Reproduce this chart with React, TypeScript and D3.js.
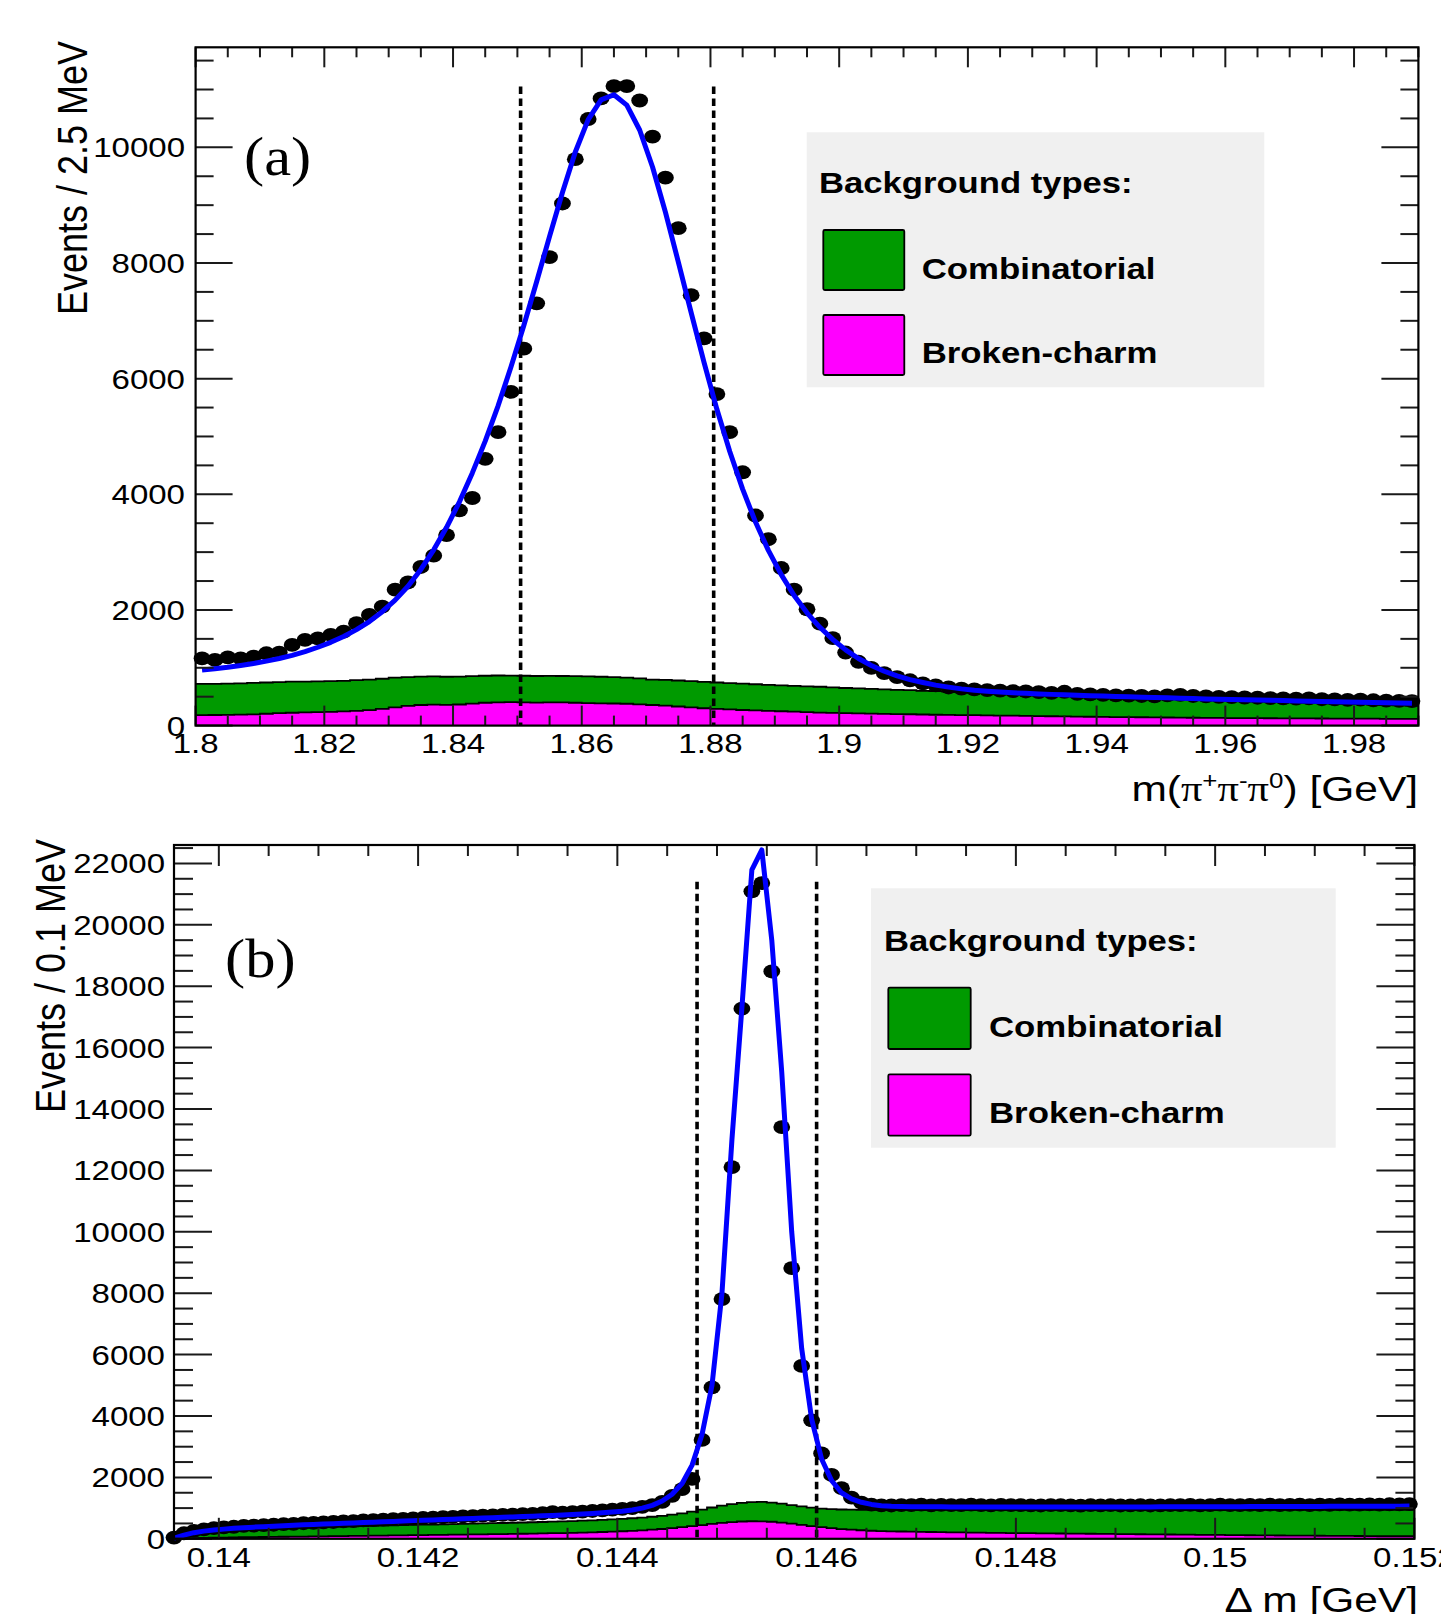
import React from 'react';
import * as d3 from 'd3';

const W = 1441;
const H = 1614;
const SX = 1.18;
const SANS = '"Liberation Sans", Arial, Helvetica, sans-serif';
const SERIF = '"Liberation Serif", "Times New Roman", serif';
const GREEN = '#009a00';
const MAGENTA = '#ff00ff';
const BLUE = '#0000ff';

// ---------------- Panel (a): m(pi+ pi- pi0) ----------------
const aBinStart = 1.8;
const aBinWidth = 0.002;
const aData = [
  1164, 1135, 1181, 1164, 1193, 1251, 1262, 1395, 1481, 1510,
  1568, 1625, 1770, 1914, 2057, 2351, 2475, 2743, 2938, 3295,
  3722, 3936, 4613, 5076, 5770, 6518, 7302, 8103, 9029, 9795,
  10490, 10846, 11060, 11060, 10810, 10187, 9475, 8602, 7444, 6696,
  5734, 5076, 4381, 3633, 3223, 2725, 2351, 2012, 1763, 1514,
  1264, 1104, 997, 908, 837, 784, 730, 695, 659, 641,
  625, 612, 604, 596, 590, 578, 566, 585, 548, 540,
  532, 524, 518, 512, 506, 522, 530, 512, 506, 498,
  492, 486, 482, 476, 470, 466, 470, 456, 452, 446,
  450, 438, 432, 428, 424,
];
const aFit = [
  962, 985, 1010, 1040, 1075, 1115, 1160, 1215, 1280, 1355,
  1440, 1540, 1660, 1800, 1970, 2170, 2410, 2700, 3040, 3430,
  3870, 4370, 4920, 5530, 6200, 6920, 7680, 8460, 9220, 9920,
  10480, 10820, 10910, 10730, 10300, 9660, 8880, 8020, 7140, 6280,
  5470, 4740, 4090, 3520, 3030, 2610, 2250, 1950, 1700, 1490,
  1310, 1160, 1040, 940, 860, 795, 745, 700, 665, 635,
  612, 595, 580, 568, 558, 548, 540, 532, 525, 518,
  512, 505, 498, 492, 486, 480, 474, 468, 462, 457,
  452, 447, 442, 437, 432, 427, 422, 417, 412, 407,
  402, 398, 394, 390, 386,
];
// stacked total (combinatorial + broken-charm)
const aBkgTotal = [
  720, 722, 725, 730, 738, 745, 752, 760, 762, 765,
  770, 775, 785, 795, 810, 828, 840, 848, 850, 845,
  848, 855, 862, 866, 865, 862, 858, 860, 858, 855,
  852, 845, 838, 830, 815, 795, 790, 780, 768, 755,
  745, 735, 725, 715, 705, 695, 688, 680, 672, 660,
  650, 644, 634, 628, 618, 612, 602, 596, 586, 580,
  565, 560, 550, 545, 536, 530, 520, 514, 505, 500,
  490, 486, 478, 474, 466, 462, 454, 450, 442, 438,
  430, 426, 418, 414, 406, 402, 394, 390, 382, 378,
  370, 364, 355, 350, 342,
];
const aBrokenCharm = [
  180, 183, 186, 190, 195, 205, 215, 222, 228, 232,
  238, 245, 255, 268, 290, 315, 340, 356, 362, 358,
  365, 380, 395, 403, 405, 400, 398, 402, 400, 395,
  390, 385, 382, 378, 368, 356, 345, 330, 315, 300,
  290, 280, 270, 262, 255, 248, 240, 232, 226, 220,
  215, 212, 208, 204, 200, 196, 192, 188, 185, 182,
  180, 177, 174, 171, 168, 165, 162, 159, 156, 153,
  150, 148, 146, 144, 142, 140, 138, 136, 134, 132,
  130, 129, 128, 127, 126, 125, 124, 123, 122, 121,
  120, 119, 118, 117, 116,
];
const aXTicks = [1.8, 1.82, 1.84, 1.86, 1.88, 1.9, 1.92, 1.94, 1.96, 1.98];
const aXTickLabels = ['1.8', '1.82', '1.84', '1.86', '1.88', '1.9', '1.92', '1.94', '1.96', '1.98'];
const aYTicks = [0, 2000, 4000, 6000, 8000, 10000];
const aYTickLabels = ['0', '2000', '4000', '6000', '8000', '10000'];
const aWindow = [1.8505, 1.8805];
const aWindowTop = 11050;

// ---------------- Panel (b): Delta m ----------------
const bBinStart = 0.1395;
const bBinWidth = 0.0001;
const bData = [
  40, 180, 260, 310, 345, 372, 392, 418, 428, 447,
  458, 476, 488, 507, 518, 537, 548, 566, 578, 597,
  608, 626, 638, 652, 663, 677, 688, 702, 713, 727,
  738, 752, 763, 777, 788, 802, 813, 832, 870, 848,
  872, 884, 906, 924, 952, 974, 1002, 1040, 1100, 1200,
  1400, 1620, 1950, 3220, 4930, 7810, 12110, 17270, 21090, 21360,
  18480, 13410, 8820, 5630, 3860, 2780, 2080, 1650, 1340, 1180,
  1110, 1090, 1085, 1100, 1095, 1110, 1090, 1105, 1100, 1095,
  1110, 1100, 1090, 1105, 1095, 1100, 1090, 1085, 1100, 1095,
  1090, 1080, 1095, 1090, 1100, 1085, 1090, 1095, 1085, 1090,
  1100, 1095, 1105, 1090, 1100, 1110, 1095, 1100, 1105, 1095,
  1110, 1100, 1105, 1115, 1100, 1110, 1105, 1120, 1110, 1115,
  1120, 1110, 1125, 1120, 1130,
];
const bFit = [
  20, 120, 200, 250, 285, 315, 340, 360, 380, 395,
  410, 425, 440, 455, 468, 480, 492, 505, 517, 530,
  542, 555, 567, 580, 592, 604, 616, 628, 640, 652,
  664, 676, 688, 700, 712, 724, 737, 750, 763, 777,
  792, 808, 826, 846, 870, 900, 940, 1000, 1090, 1230,
  1450, 1800, 2400, 3400, 5000, 8000, 13000, 17300, 21790, 22440,
  19500, 15200, 10000, 6200, 3900, 2600, 1900, 1500, 1300, 1190,
  1120, 1080, 1060, 1050, 1045, 1042, 1040, 1040, 1038, 1038,
  1037, 1036, 1036, 1035, 1035, 1035, 1035, 1034, 1034, 1034,
  1034, 1035, 1035, 1035, 1036, 1036, 1037, 1038, 1039, 1040,
  1041, 1042, 1043, 1044, 1045, 1046, 1047, 1048, 1049, 1050,
  1051, 1052, 1053, 1054, 1055, 1056, 1057, 1058, 1059, 1060,
  1061, 1062, 1063, 1064, 1065,
];
const bBkgTotal = [
  10, 90, 150, 190, 220, 245, 265, 282, 298, 312,
  325, 337, 348, 358, 368, 378, 387, 396, 405, 413,
  421, 429, 437, 444, 452, 459, 466, 473, 480, 487,
  494, 501, 508, 515, 523, 531, 539, 548, 557, 567,
  578, 590, 603, 617, 633, 650, 670, 692, 718, 748,
  785, 830, 885, 950, 1020, 1080, 1130, 1170, 1195, 1200,
  1180, 1145, 1100, 1055, 1015, 985, 965, 955, 948, 945,
  942, 940, 941, 939, 940, 938, 940, 941, 939, 940,
  938, 937, 939, 940, 938, 936, 937, 938, 936, 935,
  937, 938, 936, 937, 938, 939, 937, 936, 938, 939,
  940, 938, 939, 941, 940, 938, 939, 940, 942, 941,
  940, 939, 941, 942, 940, 941, 943, 942, 941, 943,
  944, 942, 943, 945, 944,
];
const bBrokenCharm = [
  0, 10, 20, 28, 35, 40, 45, 50, 54, 58,
  62, 66, 70, 74, 78, 82, 86, 90, 94, 98,
  102, 106, 110, 114, 118, 122, 126, 130, 134, 138,
  142, 146, 150, 155, 160, 165, 170, 176, 182, 188,
  195, 203, 212, 222, 233, 246, 260, 277, 297, 320,
  347, 378, 412, 448, 485, 518, 545, 563, 572, 570,
  555, 530, 495, 455, 415, 378, 345, 318, 296, 278,
  263, 252, 244, 237, 231, 226, 221, 216, 212, 208,
  204, 200, 196, 192, 188, 185, 182, 179, 176, 173,
  170, 167, 164, 161, 158, 155, 152, 149, 146, 143,
  140, 137, 134, 131, 128, 125, 122, 119, 116, 113,
  110, 108, 106, 104, 102, 100, 98, 96, 94, 92,
  90, 89, 88, 87, 86,
];
const bXTicks = [0.14, 0.142, 0.144, 0.146, 0.148, 0.15, 0.152];
const bXTickLabels = ['0.14', '0.142', '0.144', '0.146', '0.148', '0.15', '0.152'];
const bYTicks = [0, 2000, 4000, 6000, 8000, 10000, 12000, 14000, 16000, 18000, 20000, 22000];
const bYTickLabels = ['0', '2000', '4000', '6000', '8000', '10000', '12000', '14000', '16000', '18000', '20000', '22000'];
const bWindow = [0.1448, 0.146];
const bWindowTop = 21400;

const legendTitle = 'Background types:';
const legendLabels = ['Combinatorial', 'Broken-charm'];

function T({ x, y, anchor = 'start', size, weight = 'normal', family = SANS, rotate = false, sx = SX, children }: any) {
  const tr = `translate(${x},${y}) scale(${sx},1)` + (rotate ? ' rotate(-90)' : '');
  return (
    <text transform={tr} textAnchor={anchor} fontSize={size} fontWeight={weight} fontFamily={family} fill="#000">
      {children}
    </text>
  );
}

function Panel({ cfg }: any) {
  const { id, frame, xDomain, yDomain, binStart, binWidth, data, fit, bkgTotal, broken,
    xTicks, xTickLabels, xMinorStep, yTicks, yTickLabels, yMinorStep,
    win, winTop, tick, lab, legend, tag, xTitle, yTitle } = cfg;
  const x = d3.scaleLinear().domain(xDomain).range([frame.left, frame.right]);
  const y = d3.scaleLinear().domain(yDomain).range([frame.bottom, frame.top]);

  const steps = (vals: number[]) => {
    const pts = vals.map((v, i) => [binStart + i * binWidth, v]);
    pts.push([binStart + vals.length * binWidth, vals[vals.length - 1]]);
    return pts;
  };
  const area = d3.area<any>().x((d) => x(d[0])).y0(y(0)).y1((d) => y(d[1])).curve(d3.curveStepAfter);
  const stepLine = d3.line<any>().x((d) => x(d[0])).y((d) => y(d[1])).curve(d3.curveStepAfter);
  const centers = data.map((_: number, i: number) => binStart + (i + 0.5) * binWidth);
  const fitLine = d3.line<any>().x((d) => x(d[0])).y((d) => y(d[1]));
  const fitPts = fit.map((v: number, i: number) => [centers[i], v]);

  const nxMinor = Math.round((xDomain[1] - xTicks[0]) / xMinorStep) + 1;
  const xMinor = d3.range(-2, nxMinor).map((i) => xTicks[0] + i * xMinorStep)
    .filter((v) => v >= xDomain[0] - 1e-9 && v <= xDomain[1] + 1e-9);
  const nyMinor = Math.floor((yDomain[1] - yDomain[0]) / yMinorStep) + 1;
  const yMinor = d3.range(0, nyMinor).map((i) => yDomain[0] + i * yMinorStep);
  const isMajorX = (v: number) => xTicks.some((t: number) => Math.abs(t - v) < xMinorStep / 10);
  const isMajorY = (v: number) => yTicks.some((t: number) => Math.abs(t - v) < yMinorStep / 10);

  const tickStroke = '#1a1a1a';
  return (
    <g>
      <defs>
        <clipPath id={`clip-${id}`}>
          <rect x={frame.left} y={frame.top} width={frame.right - frame.left} height={frame.bottom - frame.top} />
        </clipPath>
      </defs>
      <g clipPath={`url(#clip-${id})`}>
        <path d={area(steps(bkgTotal)) || ''} fill={GREEN} />
        <path d={stepLine(steps(bkgTotal)) || ''} fill="none" stroke="#000" strokeWidth={1.8} />
        <path d={area(steps(broken)) || ''} fill={MAGENTA} />
        <path d={stepLine(steps(broken)) || ''} fill="none" stroke="#000" strokeWidth={1.8} />
      </g>
      {win.map((w: number, i: number) => (
        <line key={i} x1={x(w)} x2={x(w)} y1={y(winTop)} y2={y(0)} stroke="#000" strokeWidth={3.6} strokeDasharray="7.5 4.5" />
      ))}
      {data.map((v: number, i: number) => (
        <ellipse key={i} cx={x(centers[i])} cy={y(v)} rx={8.4} ry={6.9} fill="#000" />
      ))}
      <path d={fitLine(fitPts) || ''} fill="none" stroke={BLUE} strokeWidth={5} strokeLinejoin="round" />

      {/* ticks */}
      {xMinor.map((v, i) => {
        const len = isMajorX(v) ? tick.xMajor : tick.xMinor;
        return (
          <g key={`xt${i}`}>
            <line x1={x(v)} x2={x(v)} y1={frame.bottom} y2={frame.bottom - len} stroke={tickStroke} strokeWidth={2} />
            <line x1={x(v)} x2={x(v)} y1={frame.top} y2={frame.top + len} stroke={tickStroke} strokeWidth={2} />
          </g>
        );
      })}
      {yMinor.map((v, i) => {
        const len = isMajorY(v) ? tick.yMajor : tick.yMinor;
        return (
          <g key={`yt${i}`}>
            <line x1={frame.left} x2={frame.left + len} y1={y(v)} y2={y(v)} stroke={tickStroke} strokeWidth={2} />
            <line x1={frame.right} x2={frame.right - len} y1={y(v)} y2={y(v)} stroke={tickStroke} strokeWidth={2} />
          </g>
        );
      })}
      <rect x={frame.left} y={frame.top} width={frame.right - frame.left} height={frame.bottom - frame.top}
        fill="none" stroke="#000" strokeWidth={2.2} />

      {/* tick labels */}
      {xTicks.map((t: number, i: number) => (
        <T key={`xl${i}`} x={x(t)} y={lab.xBaseline} anchor="middle" size={lab.size}>{xTickLabels[i]}</T>
      ))}
      {yTicks.map((t: number, i: number) => (
        <T key={`yl${i}`} x={lab.yRight} y={y(t) + lab.size * 0.36} anchor="end" size={lab.size}>{yTickLabels[i]}</T>
      ))}

      {/* axis titles */}
      <T x={xTitle.x} y={xTitle.y} anchor="end" size={36}>{xTitle.content}</T>
      <T x={yTitle.x} y={yTitle.y} anchor="end" size={36} rotate sx={1.18}>{yTitle.text}</T>

      {/* panel tag */}
      <T x={tag.x} y={tag.y} size={55} family={SERIF} sx={1.1}>{tag.text}</T>

      {/* legend */}
      <rect x={legend.x0} y={legend.y0} width={legend.x1 - legend.x0} height={legend.y1 - legend.y0} fill="#f0f0f0" />
      <T x={legend.titleX} y={legend.titleY} size={30} weight="bold" sx={1.155}>{legendTitle}</T>
      {[GREEN, MAGENTA].map((c, i) => (
        <g key={`lg${i}`}>
          <rect x={legend.swX0} y={legend.rows[i][0]} width={legend.swX1 - legend.swX0}
            height={legend.rows[i][1] - legend.rows[i][0]} fill={c} stroke="#000" strokeWidth={1.8} rx={1.5} />
          <T x={legend.labelX} y={legend.labelY[i]} size={30} weight="bold" sx={1.16}>{legendLabels[i]}</T>
        </g>
      ))}
    </g>
  );
}

export default function App() {
  const supSize = 22;
  const aXTitle = (
    <>
      <tspan>m(</tspan>
      <tspan fontFamily={SERIF}>π</tspan>
      <tspan dy={-13} fontSize={supSize}>+</tspan>
      <tspan dy={13} fontFamily={SERIF}>π</tspan>
      <tspan dy={-13} fontSize={supSize}>-</tspan>
      <tspan dy={13} fontFamily={SERIF}>π</tspan>
      <tspan dy={-13} fontSize={supSize}>0</tspan>
      <tspan dy={13}>) [GeV]</tspan>
    </>
  );
  const cfgA = {
    id: 'a',
    frame: { left: 195.6, right: 1418.4, top: 47.3, bottom: 725.6 },
    xDomain: [1.8, 1.99], yDomain: [0, 11730],
    binStart: aBinStart, binWidth: aBinWidth,
    data: aData, fit: aFit, bkgTotal: aBkgTotal, broken: aBrokenCharm,
    xTicks: aXTicks, xTickLabels: aXTickLabels, xMinorStep: 0.005,
    yTicks: aYTicks, yTickLabels: aYTickLabels, yMinorStep: 500,
    win: aWindow, winTop: aWindowTop,
    tick: { xMajor: 20, xMinor: 10, yMajor: 37, yMinor: 18 },
    lab: { size: 28, xBaseline: 753, yRight: 185 },
    legend: {
      x0: 806.7, y0: 132.3, x1: 1264.3, y1: 387.3, titleX: 819, titleY: 193.3,
      swX0: 823.3, swX1: 904.3, rows: [[230, 290], [315, 375]], labelX: 921.7, labelY: [279, 363.3],
    },
    tag: { x: 244, y: 175.4, text: '(a)' },
    xTitle: { x: 1418, y: 801, content: aXTitle },
    yTitle: { x: 87, y: 41, text: 'Events / 2.5 MeV' },
  };
  const cfgB = {
    id: 'b',
    frame: { left: 174, right: 1414.4, top: 845, bottom: 1538.8 },
    xDomain: [0.13955, 0.152], yDomain: [0, 22600],
    binStart: bBinStart, binWidth: bBinWidth,
    data: bData, fit: bFit, bkgTotal: bBkgTotal, broken: bBrokenCharm,
    xTicks: bXTicks, xTickLabels: bXTickLabels, xMinorStep: 0.0005,
    yTicks: bYTicks, yTickLabels: bYTickLabels, yMinorStep: 500,
    win: bWindow, winTop: bWindowTop,
    tick: { xMajor: 21, xMinor: 11, yMajor: 38, yMinor: 19 },
    lab: { size: 28, xBaseline: 1566.5, yRight: 165 },
    legend: {
      x0: 871, y0: 888.3, x1: 1335.7, y1: 1147.7, titleX: 884, titleY: 950.7,
      swX0: 888.3, swX1: 970.7, rows: [[987.7, 1049], [1074.3, 1135.7]], labelX: 989, labelY: [1037.3, 1123.3],
    },
    tag: { x: 225, y: 977, text: '(b)' },
    xTitle: { x: 1418, y: 1612, content: <tspan>Δ m [GeV]</tspan> },
    yTitle: { x: 65, y: 839, text: 'Events / 0.1 MeV' },
  };
  return (
    <svg width={W} height={H} viewBox={`0 0 ${W} ${H}`} style={{ position: 'absolute', left: 0, top: 0, display: 'block' }}>
      <rect x={0} y={0} width={W} height={H} fill="#fff" />
      <Panel cfg={cfgA} />
      <Panel cfg={cfgB} />
    </svg>
  );
}
